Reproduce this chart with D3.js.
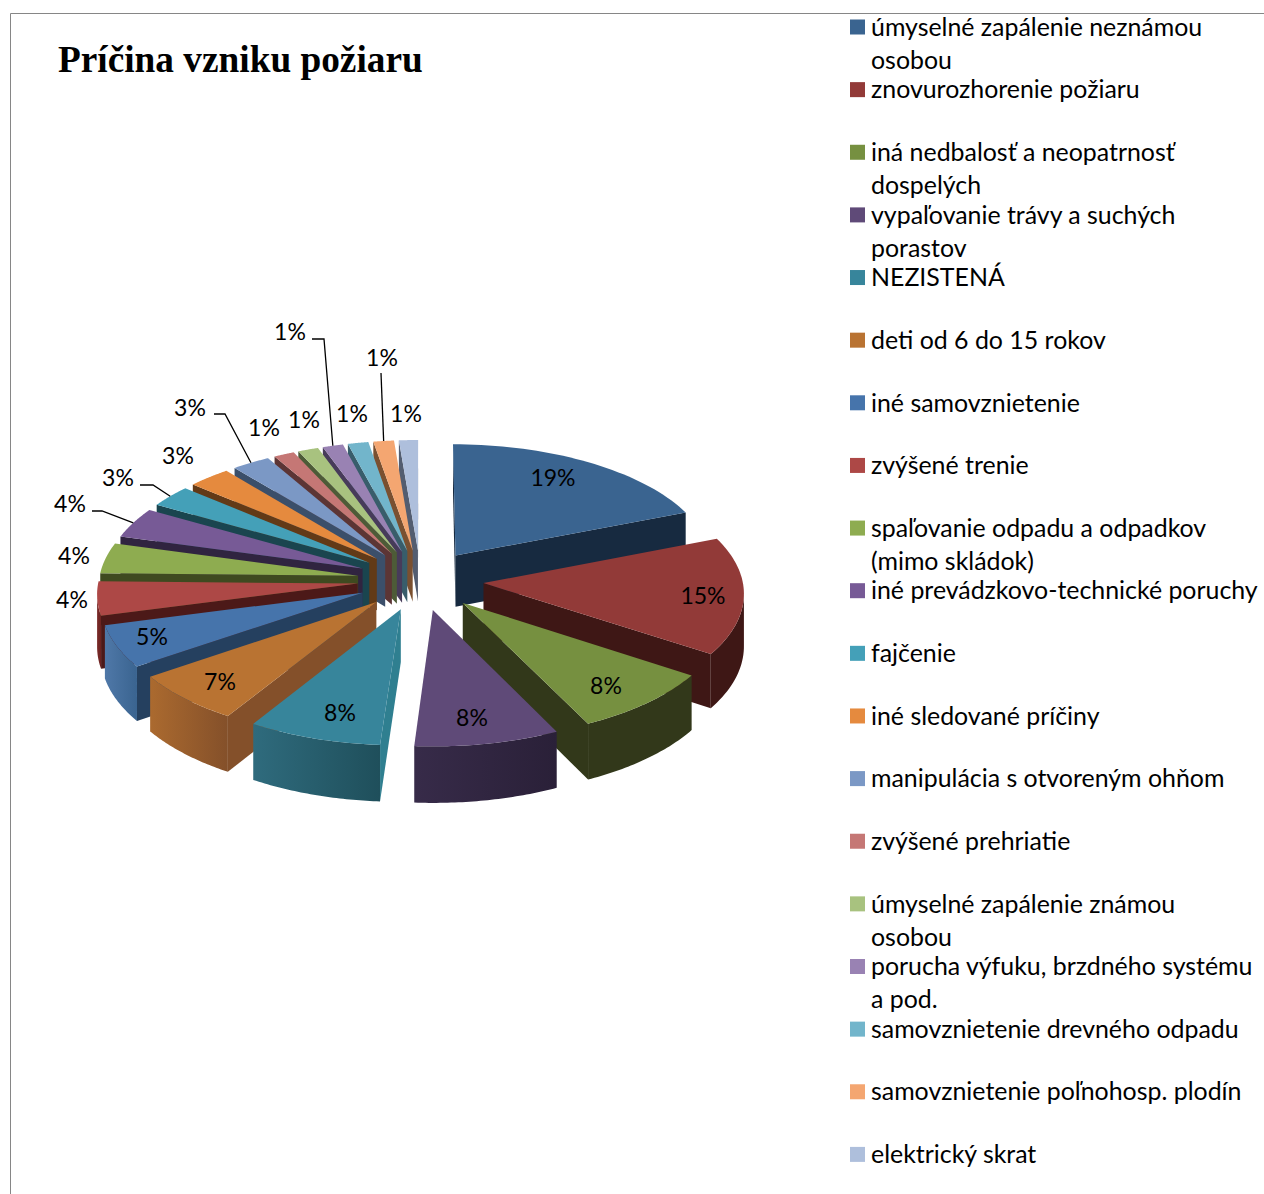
<!DOCTYPE html>
<html>
<head>
<meta charset="utf-8">
<title>Príčina vzniku požiaru</title>
<script src="https://cdn.jsdelivr.net/npm/d3@7"></script>
<style>
  html, body { margin: 0; padding: 0; background: #fff; }
  svg { display: block; }
</style>
</head>
<body>
<svg id="chart" width="1264" height="1194"></svg>
<script>
const chartTitle = "Príčina vzniku požiaru";

// legend text, second line where the original wraps
const categories = [
  ["úmyselné zapálenie neznámou", "osobou"],
  ["znovurozhorenie požiaru"],
  ["iná nedbalosť a neopatrnosť", "dospelých"],
  ["vypaľovanie trávy a suchých", "porastov"],
  ["NEZISTENÁ"],
  ["deti od 6 do 15 rokov"],
  ["iné samovznietenie"],
  ["zvýšené trenie"],
  ["spaľovanie odpadu a odpadkov", "(mimo skládok)"],
  ["iné prevádzkovo-technické poruchy"],
  ["fajčenie"],
  ["iné sledované príčiny"],
  ["manipulácia s otvoreným ohňom"],
  ["zvýšené prehriatie"],
  ["úmyselné zapálenie známou", "osobou"],
  ["porucha výfuku, brzdného systému", "a pod."],
  ["samovznietenie drevného odpadu"],
  ["samovznietenie poľnohosp. plodín"],
  ["elektrický skrat"]
];

// percent shares
const values = [19, 15.3, 8.45, 8.35, 7.7, 6.6, 5.49, 4.41, 4, 4, 2.9, 2.9, 2.6, 1.4, 1.4, 1.4, 1.4, 1.4, 1.3];

const topColors = ["#3a6490", "#923a38", "#769040", "#5f4a78", "#37859b", "#b97332", "#4674ab", "#ad4846", "#8eac50",
  "#775a96", "#44a0b8", "#e58a3e", "#7b98c5", "#c57775", "#a8c27f", "#9982b3", "#72b5cb", "#f4a671", "#aebfdc"];
const wallColors = ["#172a40", "#3e1715", "#32381a", "#2f2540", "#2f7f90", "#84502a", "#25405f", "#4c1918", "#3f4a20",
  "#302440", "#1a454f", "#623a17", "#3b4f6a", "#5c3535", "#4d5b37", "#473b5a", "#385d6b", "#7a5030", "#535d70"];
// rim gradient, left stop / right stop (later slices never show their rim)
const rimLeft = ["#172a40", "#3e1715", "#32381a", "#372b49", "#2f6b7d", "#ab6a2f", "#4f78a8", "#7a2a28"];
const rimRight = ["#172a40", "#3e1715", "#32381a", "#2a2038", "#1f4f5b", "#84502a", "#3a6490", "#6a2321"];

// label centres, placed by hand in the original
const labelX = [553, 703, 606, 472, 340, 220, 152, 72, 74, 70, 118, 178, 190, 264, 304, 290, 352, 382, 406];
const labelY = [478, 596, 686, 718, 713, 682, 637, 600, 556, 504, 478, 456, 408, 428, 420, 332, 414, 358, 414];
// leader elbows, slice index -> points before the rim
const leaders = new Map([
  [9, [[92, 511], [102, 511]]],
  [10, [[140, 485], [153, 485]]],
  [12, [[214, 414], [225, 414]]],
  [15, [[312, 339], [324, 339]]],
  [17, [[381, 373]]]
]);

// projection of the disc: unit radius, perspective grows toward the viewer
const cx = 420.5, cy = 580, rx = 259, ry = 123.4, persp = 0.0707, depth = 52, explode = 0.244;

function project(u, v, z) {
  const s = 1 + persp * v;
  return [cx + rx * u * s, cy + ry * v * s + (z ? depth * s : 0)];
}

const svg = d3.select("#chart");
const defs = svg.append("defs");

// frame
svg.append("path")
  .attr("d", "M1264,13.5H10.5V1194")
  .attr("fill", "none")
  .attr("stroke", "#868686")
  .attr("stroke-width", 1);

svg.append("text")
  .attr("x", 58)
  .attr("y", 72)
  .attr("font-family", "'Liberation Serif', serif")
  .attr("font-weight", "bold")
  .attr("font-size", 37.3)
  .attr("fill", "#000")
  .text(chartTitle);

const arcs = d3.pie().sort(null).value(d => d)(values);

const slices = arcs.map((a, i) => {
  const mid = (a.startAngle + a.endAngle) / 2;
  const tu = explode * Math.sin(mid), tv = -explode * Math.cos(mid);
  const at = (phi, r = 1) => [tu + r * Math.sin(phi), tv - r * Math.cos(phi)];
  const phis = d3.range(0, 41).map(k => a.startAngle + (a.endAngle - a.startAngle) * k / 40);
  return { i, a, mid, tu, tv, at, phis, order: tv - Math.cos(mid) * 0.6 };
});

const line = d3.line();
const drawOrder = slices.slice().sort((p, q) => d3.ascending(p.order, q.order));

const sliceG = svg.append("g").attr("class", "slices")
  .selectAll("g")
  .data(drawOrder)
  .enter().append("g");

sliceG.each(function(d) {
  const g = d3.select(this);
  const tipTop = project(d.tu, d.tv, false), tipBot = project(d.tu, d.tv, true);
  const pTop = d.phis.map(phi => { const c = d.at(phi); return project(c[0], c[1], false); });
  const pBot = d.phis.map(phi => { const c = d.at(phi); return project(c[0], c[1], true); });
  const first = pTop[0], last = pTop[pTop.length - 1];

  // side walls, seen only where the edge runs leftward on screen
  if (last[0] > tipTop[0]) {
    g.append("path")
      .attr("d", line([last, tipTop, tipBot, pBot[pBot.length - 1]]) + "Z")
      .attr("fill", wallColors[d.i]);
  }
  if (first[0] < tipTop[0]) {
    g.append("path")
      .attr("d", line([tipTop, first, pBot[0], tipBot]) + "Z")
      .attr("fill", wallColors[d.i]);
  }

  // rim
  const seen = d.phis.map((_, k) => k).filter(k => k < d.phis.length - 1 && pTop[k + 1][0] < pTop[k][0]);
  if (seen.length && d.i < rimLeft.length) {
    const a = seen[0], b = seen[seen.length - 1] + 1;
    const up = pTop.slice(a, b + 1), down = pBot.slice(a, b + 1).reverse();
    const grad = defs.append("linearGradient")
      .attr("id", "rim" + d.i)
      .attr("gradientUnits", "userSpaceOnUse")
      .attr("x1", d3.min(up, p => p[0])).attr("x2", d3.max(up, p => p[0]))
      .attr("y1", 0).attr("y2", 0);
    grad.append("stop").attr("offset", 0).attr("stop-color", rimLeft[d.i]);
    grad.append("stop").attr("offset", 1).attr("stop-color", rimRight[d.i]);
    g.append("path")
      .attr("d", line(up.concat(down)) + "Z")
      .attr("fill", "url(#rim" + d.i + ")");
  }

  // top face
  g.append("path")
    .attr("d", line([tipTop].concat(pTop)) + "Z")
    .attr("fill", topColors[d.i]);
});

// leader lines
svg.append("g").attr("class", "leaders")
  .selectAll("path")
  .data(Array.from(leaders.keys()))
  .enter().append("path")
  .attr("d", i => {
    const s = slices[i];
    const c = s.at(s.mid);
    return line(leaders.get(i).concat([project(c[0], c[1], false)]));
  })
  .attr("fill", "none")
  .attr("stroke", "#000")
  .attr("stroke-width", 1.3);

// percent labels
svg.append("g").attr("class", "labels")
  .selectAll("text")
  .data(values)
  .enter().append("text")
  .attr("x", (d, i) => labelX[i])
  .attr("y", (d, i) => labelY[i])
  .attr("dy", "0.35em")
  .attr("text-anchor", "middle")
  .attr("font-family", "Lato, sans-serif")
  .attr("font-size", 23)
  .attr("fill", "#000")
  .text(d => Math.round(d) + "%");

// legend
const legendY = d3.scaleLinear().domain([0, categories.length - 1]).range([27, 1154.4]);

const legendItem = svg.append("g").attr("class", "legend")
  .selectAll("g")
  .data(categories)
  .enter().append("g")
  .attr("transform", (d, i) => "translate(850," + legendY(i) + ")");

legendItem.append("rect")
  .attr("x", 0)
  .attr("y", -7.5)
  .attr("width", 15)
  .attr("height", 15)
  .attr("fill", (d, i) => topColors[i]);

legendItem.selectAll("text")
  .data(d => d)
  .enter().append("text")
  .attr("x", 21)
  .attr("y", (d, k) => k * 33)
  .attr("dy", "0.35em")
  .attr("font-family", "Lato, sans-serif")
  .attr("font-size", 24.9)
  .attr("fill", "#000")
  .text(d => d);
</script>
</body>
</html>
